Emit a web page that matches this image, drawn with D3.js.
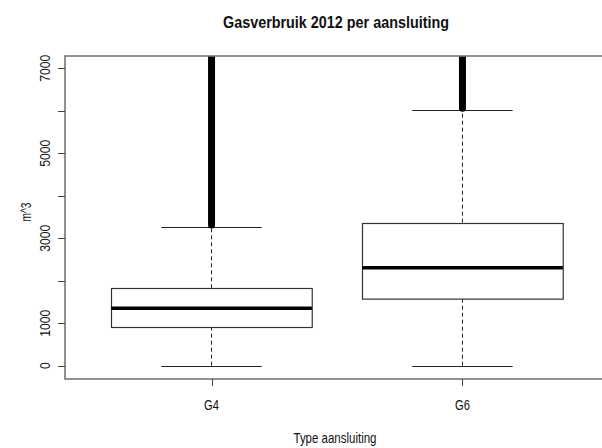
<!DOCTYPE html>
<html>
<head>
<meta charset="utf-8">
<script src="https://cdn.jsdelivr.net/npm/d3@7"></script>
<style>
  html, body { margin: 0; padding: 0; background: #fff; }
  svg { display: block; }
  text { font-family: "Liberation Sans Narrow", "Arial Narrow", "Liberation Sans", Arial, sans-serif; fill: #111; }
</style>
</head>
<body>
<svg id="chart" width="602" height="448"></svg>
<script>
// Gas consumption 2012 per connection type (m^3)
const categories = ["G4", "G6"];
const whiskerLow  = [0, 0];
const q1          = [904, 1586];
const medians     = [1351, 2307];
const q3          = [1822, 3366];
const whiskerHigh = [3264, 6018];
// outliers run as a dense column of points from the first outlier past the top of the axis
const outlierLow  = [3310, 6060];
const outlierHigh = [7600, 7600];
const yTicks = [0, 1000, 2000, 3000, 4000, 5000, 6000, 7000];
const yTickLabels = ["0", "1000", "", "3000", "", "5000", "", "7000"];

const svg = d3.select("#chart");
const plotLeft = 65, plotRight = 608, plotTop = 56, plotBottom = 379;

const x = d3.scaleLinear().domain([0.42, 2.58]).range([66, 608]);
const y = d3.scaleLinear().domain([-313, 7289]).range([plotBottom, plotTop]);

const boxHalf = 0.4, stapleHalf = 0.2;

svg.append("defs").append("clipPath").attr("id", "plotclip")
  .append("rect").attr("x", plotLeft).attr("y", plotTop)
  .attr("width", plotRight - plotLeft).attr("height", plotBottom - plotTop);

const data = categories.map((c, i) => ({
  c, pos: i + 1, lo: whiskerLow[i], q1: q1[i], med: medians[i], q3: q3[i], hi: whiskerHigh[i],
  oLo: outlierLow[i], oHi: outlierHigh[i]
}));

const g = svg.append("g").attr("clip-path", "url(#plotclip)");

// dashed whiskers
g.selectAll(".wlow").data(data).join("line")
  .attr("x1", d => x(d.pos)).attr("x2", d => x(d.pos))
  .attr("y1", d => y(d.lo)).attr("y2", d => y(d.q1))
  .attr("stroke", "#222").attr("stroke-width", 1).attr("stroke-dasharray", "4,3");
g.selectAll(".whigh").data(data).join("line")
  .attr("x1", d => x(d.pos)).attr("x2", d => x(d.pos))
  .attr("y1", d => y(d.q3)).attr("y2", d => y(d.hi))
  .attr("stroke", "#222").attr("stroke-width", 1).attr("stroke-dasharray", "4,3");

// staples
["lo", "hi"].forEach(k => {
  g.selectAll(".staple-" + k).data(data).join("line")
    .attr("x1", d => x(d.pos - stapleHalf)).attr("x2", d => x(d.pos + stapleHalf))
    .attr("y1", d => Math.round(y(d[k])) + 0.5).attr("y2", d => Math.round(y(d[k])) + 0.5)
    .attr("stroke", "#222").attr("stroke-width", 1.2);
});

// boxes
g.selectAll(".box").data(data).join("rect")
  .attr("x", d => Math.round(x(d.pos - boxHalf)) + 0.5)
  .attr("width", d => x(d.pos + boxHalf) - x(d.pos - boxHalf))
  .attr("y", d => Math.round(y(d.q3)) + 0.5)
  .attr("height", d => y(d.q1) - y(d.q3))
  .attr("fill", "#fff").attr("stroke", "#333").attr("stroke-width", 1.2);

// medians
g.selectAll(".median").data(data).join("line")
  .attr("x1", d => x(d.pos - boxHalf)).attr("x2", d => x(d.pos + boxHalf))
  .attr("y1", d => y(d.med)).attr("y2", d => y(d.med))
  .attr("stroke", "#000").attr("stroke-width", 3.5);

// outliers
g.selectAll(".outliers").data(data).join("line")
  .attr("x1", d => x(d.pos)).attr("x2", d => x(d.pos))
  .attr("y1", d => y(d.oLo)).attr("y2", d => y(d.oHi))
  .attr("stroke", "#000").attr("stroke-width", 7).attr("stroke-linecap", "round");

// frame (right side falls outside the canvas)
svg.append("rect").attr("x", plotLeft).attr("y", plotTop)
  .attr("width", plotRight - plotLeft).attr("height", plotBottom - plotTop)
  .attr("fill", "none").attr("stroke", "#777").attr("stroke-width", 1.6);

// y axis
const yAxis = svg.append("g");
yAxis.selectAll("line").data(yTicks).join("line")
  .attr("x1", plotLeft - 7).attr("x2", plotLeft)
  .attr("y1", d => Math.round(y(d)) + 0.5).attr("y2", d => Math.round(y(d)) + 0.5)
  .attr("stroke", "#444").attr("stroke-width", 1);
yAxis.selectAll("text").data(yTicks.map((v, i) => ({ v, t: yTickLabels[i] })).filter(d => d.t))
  .join("text")
  .attr("transform", d => `translate(50,${y(d.v)}) rotate(-90)`)
  .attr("text-anchor", "middle")
  .attr("font-size", 15)
  .attr("textLength", d => d.t.length * 6.8)
  .attr("lengthAdjust", "spacingAndGlyphs")
  .text(d => d.t);

// x axis
const xAxis = svg.append("g");
xAxis.selectAll("line").data(data).join("line")
  .attr("x1", d => Math.round(x(d.pos)) + 0.5).attr("x2", d => Math.round(x(d.pos)) + 0.5)
  .attr("y1", plotBottom).attr("y2", plotBottom + 7)
  .attr("stroke", "#444").attr("stroke-width", 1);
xAxis.selectAll("text").data(data).join("text")
  .attr("x", d => x(d.pos)).attr("y", 410)
  .attr("text-anchor", "middle")
  .attr("font-size", 15)
  .attr("textLength", 15)
  .attr("lengthAdjust", "spacingAndGlyphs")
  .text(d => d.c);

// titles
svg.append("text").attr("x", 336).attr("y", 27.5).attr("text-anchor", "middle")
  .attr("font-size", 17).attr("font-weight", "bold")
  .attr("textLength", 226).attr("lengthAdjust", "spacingAndGlyphs")
  .text("Gasverbruik 2012 per aansluiting");
svg.append("text").attr("x", 335).attr("y", 443).attr("text-anchor", "middle")
  .attr("font-size", 15)
  .attr("textLength", 83).attr("lengthAdjust", "spacingAndGlyphs")
  .text("Type aansluiting");
svg.append("text").attr("transform", "translate(31,212) rotate(-90)").attr("text-anchor", "middle")
  .attr("font-size", 15)
  .attr("textLength", 19).attr("lengthAdjust", "spacingAndGlyphs")
  .text("m^3");
</script>
</body>
</html>
